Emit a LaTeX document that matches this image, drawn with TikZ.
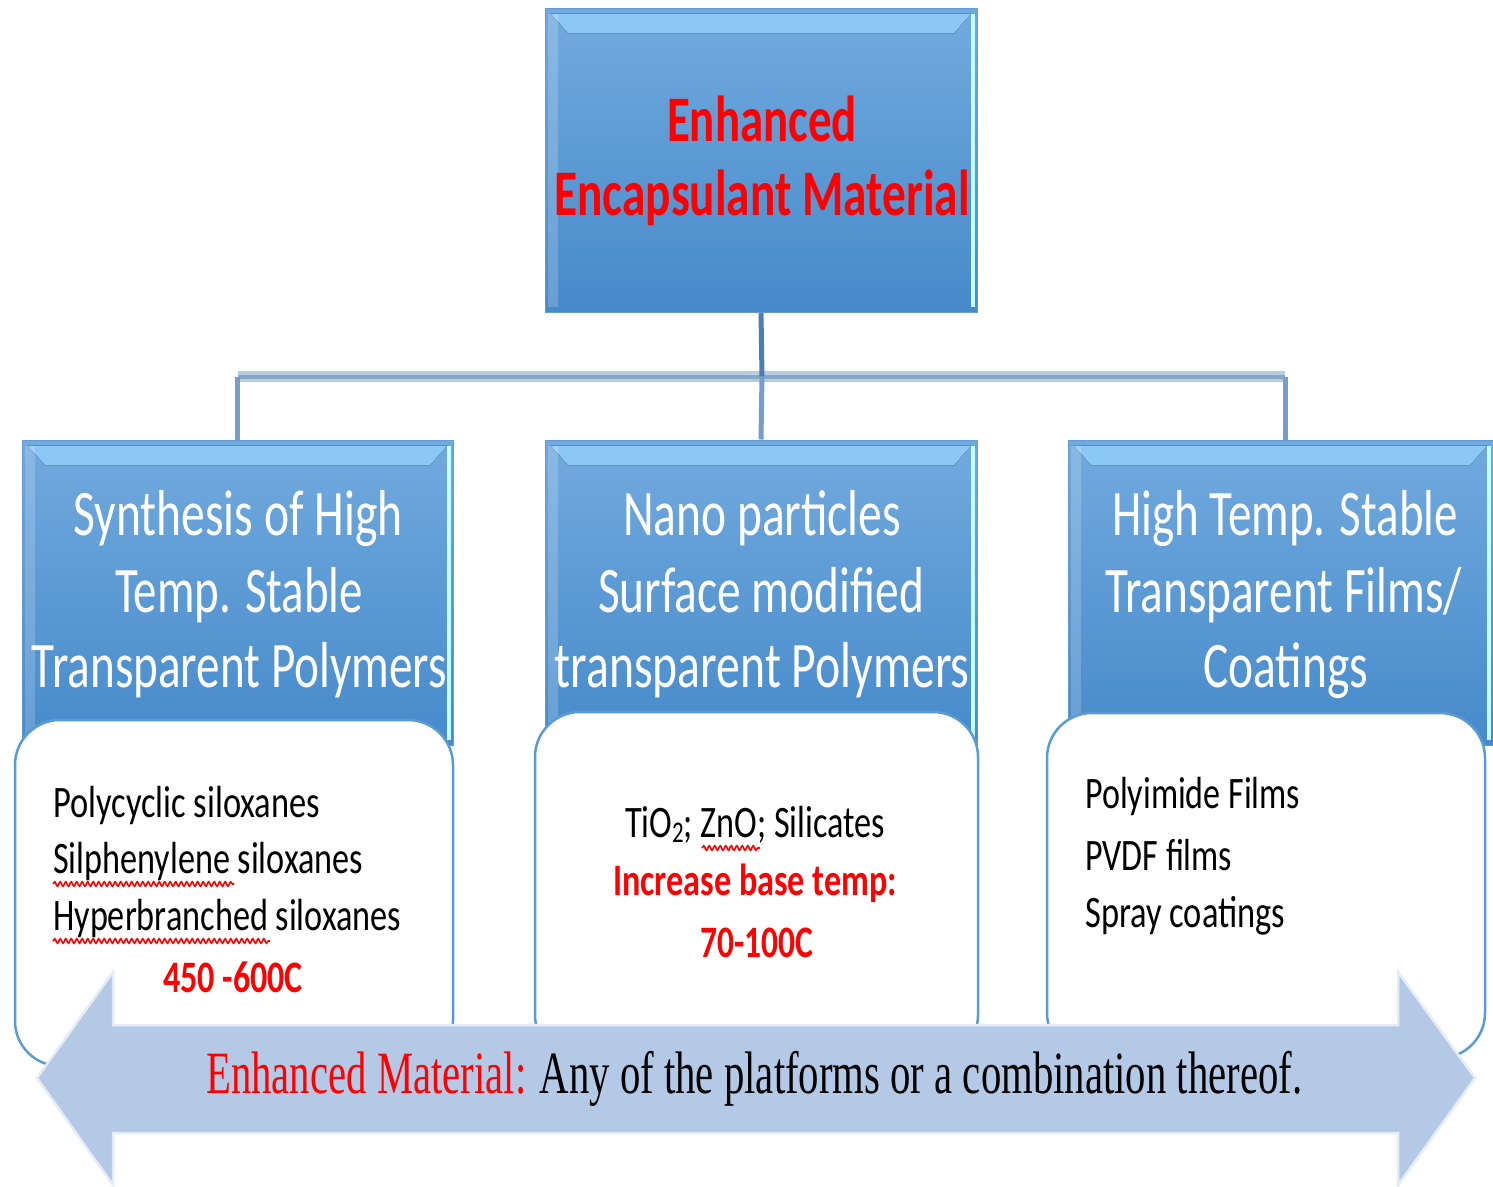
\documentclass[tikz,border=0pt]{standalone}
\usepackage{fontspec}
\usepackage{graphicx}
\usetikzlibrary{calc,decorations.pathmorphing}
\newfontfamily\calfont{Carlito}
\newfontfamily\timesfont{Liberation Serif}
\definecolor{boxtop}{RGB}{114,170,222}
\definecolor{boxbot}{RGB}{70,138,202}
\definecolor{boxedge}{RGB}{100,155,212}
\definecolor{bevhi}{RGB}{196,255,255}
\definecolor{bevmid}{RGB}{140,200,245}
\definecolor{wborder}{RGB}{91,155,213}
\definecolor{arrowfill}{RGB}{180,201,230}
\definecolor{arrowedge}{RGB}{228,236,248}
\definecolor{connlight}{RGB}{185,205,226}
\definecolor{conncore}{RGB}{136,168,201}
\definecolor{conndark}{RGB}{74,126,180}
\definecolor{connmid}{RGB}{118,158,200}
\definecolor{pureRed}{RGB}{255,0,0}
\newcommand{\fitw}[2]{\resizebox{#1pt}{\height}{#2}}
\newcommand{\bevel}[1]{%
  \fill[top color=bevmid, middle color=bevhi, bottom color=bevmid]
    ($(#1.north west)+(6,6)$) -- ($(#1.north east)+(-6,6)$) --
    ($(#1.north east)+(-24,26)$) -- ($(#1.north west)+(24,26)$) -- cycle;
  \fill[bevhi] ($(#1.north east)+(-7,6)$) rectangle ($(#1.south east)+(-3,-6)$);
  \fill[white, opacity=0.18] ($(#1.north west)+(3,6)$) rectangle ($(#1.south west)+(13,-6)$);
}
\tikzset{
  bluebox/.style={rectangle, top color=boxtop, bottom color=boxbot, draw=boxedge, line width=1pt, inner sep=0pt},
  whitebox/.style={rectangle, rounded corners=45pt, fill=white, draw=wborder, line width=2.5pt, inner sep=0pt},
  hdr/.style={anchor=base, text=white, inner sep=0pt, font=\calfont\fontsize{65}{76}\selectfont},
  toptext/.style={anchor=base, text=pureRed, inner sep=0pt, font=\calfont\bfseries\fontsize{65}{72}\selectfont},
  body/.style={anchor=base west, text=black, inner sep=0pt, font=\calfont\fontsize{45}{54}\selectfont},
  bodyc/.style={anchor=base, text=black, inner sep=0pt, font=\calfont\fontsize{45}{54}\selectfont},
  redb/.style={anchor=base, text=pureRed, inner sep=0pt, font=\calfont\bfseries\fontsize{45}{54}\selectfont},
  squig/.style={decorate, decoration={snake, amplitude=2.2pt, segment length=5.5pt}, draw=pureRed, line width=1.6pt},
  connband/.style={draw=connlight, line width=11pt},
  conncoreline/.style={draw=conncore, line width=4pt},
  connv/.style={draw=connmid, line width=5pt},
  conntop/.style={draw=conndark, line width=5pt},
}
\begin{document}
\begin{tikzpicture}[x=1pt, y=-1pt]
\useasboundingbox (0,0) rectangle (1493,1186);
\fill[white] (0,0) rectangle (1493,1186);

\coordinate (hub) at (762,376.5);

% box nodes
\node[bluebox, minimum width=432, minimum height=304] (top) at (761,160) {};
\node[bluebox, minimum width=431, minimum height=305] (h1) at (237.5,592.5) {};
\node[bluebox, minimum width=432, minimum height=305] (h2) at (761,592.5) {};
\node[bluebox, minimum width=425, minimum height=305] (h3) at (1280.5,592.5) {};

% connectors
\draw[connband] (h1.north |- hub) -- ($(h3.north |- hub)+(4.5,0)$);
\draw[conncoreline] (h1.north |- hub) -- ($(h3.north |- hub)+(4.5,0)$);
\draw[conntop] (top.south) -- (hub);
\draw[connv] (hub) -- (h2.north);
\draw[connv] (h1.north |- hub) -- (h1.north);
\draw[connv] ($(h3.north |- hub)+(4.5,0)$) -- ($(h3.north)+(4.5,0)$);

% redraw boxes on top of connector ends
\node[bluebox, minimum width=432, minimum height=304] at (top) {};
\node[bluebox, minimum width=431, minimum height=305] at (h1) {};
\node[bluebox, minimum width=432, minimum height=305] at (h2) {};
\node[bluebox, minimum width=425, minimum height=305] at (h3) {};
\bevel{top}
\bevel{h1}
\bevel{h2}
\bevel{h3}

% white content boxes
\node[whitebox, minimum width=438, minimum height=346] (w1) at (234,893) {};
\node[whitebox, minimum width=443, minimum height=348] (w2) at (756.5,886) {};
\node[whitebox, minimum width=438, minimum height=345] (w3) at (1266,885.5) {};

% top title
\node[toptext] (t0a) at (762,141) {\fitw{190}{Enhanced}};
\node[toptext] (t0b) at (762,215) {\fitw{415}{Encapsulant Material}};

% headers
\node[hdr] (t1a) at (238,535) {\fitw{329}{Synthesis of High}};
\node[hdr] (t1b) at (239,612) {\fitw{248}{Temp. Stable}};
\node[hdr] (t1c) at (239.5,687) {\fitw{415}{Transparent Polymers}};
\node[hdr] (t2a) at (762,535) {\fitw{278}{Nano particles}};
\node[hdr] (t2b) at (761,612) {\fitw{326}{Surface modified}};
\node[hdr] (t2c) at (762,687) {\fitw{415}{transparent Polymers}};
\node[hdr] (t3a) at (1285,535) {\fitw{346}{High Temp. Stable}};
\node[hdr] (t3b) at (1283.5,612) {\fitw{357}{Transparent Films/}};
\node[hdr] (t3c) at (1285.5,687) {\fitw{165}{Coatings}};

% body texts
\node[body] (b1a) at (53,817) {\fitw{267}{Polycyclic siloxanes}};
\node[body] (b1b) at (53,873) {\fitw{310}{Silphenylene siloxanes}};
\node[body] (b1c) at (53,930) {\fitw{348}{Hyperbranched siloxanes}};
\node[redb] (b1d) at (233,992) {\fitw{140}{450 -600C}};
\node[bodyc] (b2a) at (755,837) {\fitw{260}{TiO\raisebox{-0.12em}{\fontsize{30}{30}\selectfont 2}; ZnO; Silicates}};
\node[redb] (b2b) at (755,895) {\fitw{284}{Increase base temp:}};
\node[redb] (b2c) at (756.5,957) {\fitw{113}{70-100C}};
\node[body] (b3a) at (1085,808) {\fitw{215}{Polyimide Films}};
\node[body] (b3b) at (1085,870) {\fitw{147}{PVDF films}};
\node[body] (b3c) at (1085,927) {\fitw{200}{Spray coatings}};

% spell-check squiggles
\draw[squig] (53,884) -- (234,884);
\draw[squig] (53,941) -- (270,941);
\draw[squig] (702,848) -- (760,848);

% double arrow
\fill[arrowfill, draw=arrowedge, line width=2.5pt, line join=miter]
  (37,1078) -- (113,972) -- (113,1025) -- (1398,1025) -- (1398,972) -- (1475,1078)
  -- (1398,1185) -- (1398,1133) -- (113,1133) -- (113,1185) -- cycle;
\node[anchor=base west, inner sep=0pt, font=\timesfont\fontsize{60}{70}\selectfont] (note) at (206,1093)
  {\fitw{1096}{{\color{pureRed}Enhanced Material:} Any of the platforms or a combination thereof.}};
\end{tikzpicture}
\end{document}
